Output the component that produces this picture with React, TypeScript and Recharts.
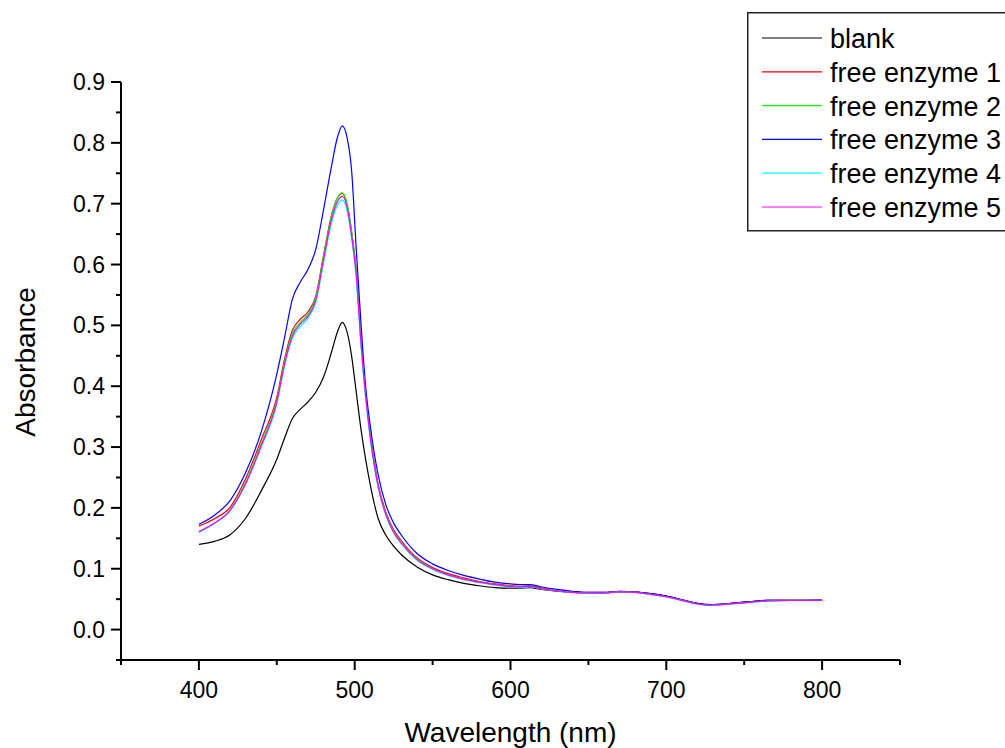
import { LineChart, Line, XAxis, YAxis } from "recharts";

// ─── Data ───────────────────────────────────────────────
const wavelengths = [
    400, 410, 420, 430, 440, 450, 455, 460, 465, 470, 475, 480, 485, 489, 492, 495, 498, 501, 504, 507,
    510, 515, 520, 525, 530, 540, 550, 560, 570, 580, 590, 600, 606, 612, 620, 630, 640, 650, 660, 670,
    680, 690, 700, 710, 720, 728, 735, 745, 755, 765, 780, 800,
];

const blank = [
    0.14, 0.145, 0.156, 0.183, 0.228, 0.28, 0.315, 0.347, 0.362, 0.374, 0.39, 0.415, 0.455, 0.49, 0.505, 0.49, 0.45, 0.39, 0.33, 0.28,
    0.238, 0.183, 0.155, 0.137, 0.123, 0.103, 0.09, 0.082, 0.076, 0.072, 0.069, 0.068, 0.068, 0.069, 0.066, 0.063, 0.061, 0.06, 0.06, 0.062,
    0.061, 0.059, 0.055, 0.049, 0.043, 0.04, 0.041, 0.044, 0.046, 0.048, 0.048, 0.048,
];

const enzyme1 = [
    0.17, 0.182, 0.201, 0.248, 0.312, 0.382, 0.445, 0.492, 0.51, 0.522, 0.548, 0.615, 0.68, 0.71, 0.717, 0.7, 0.655, 0.59, 0.48, 0.39,
    0.322, 0.24, 0.193, 0.164, 0.146, 0.118, 0.102, 0.092, 0.085, 0.079, 0.075, 0.072, 0.071, 0.072, 0.068, 0.065, 0.062, 0.061, 0.061, 0.063,
    0.062, 0.059, 0.055, 0.049, 0.043, 0.041, 0.042, 0.044, 0.046, 0.048, 0.048, 0.048,
];

const enzyme2 = [
    0.16, 0.175, 0.196, 0.242, 0.305, 0.377, 0.44, 0.487, 0.505, 0.518, 0.545, 0.612, 0.678, 0.71, 0.718, 0.701, 0.654, 0.586, 0.475, 0.386,
    0.318, 0.237, 0.19, 0.161, 0.143, 0.116, 0.1, 0.09, 0.083, 0.078, 0.074, 0.071, 0.07, 0.071, 0.067, 0.064, 0.061, 0.06, 0.06, 0.062,
    0.061, 0.058, 0.054, 0.048, 0.042, 0.04, 0.041, 0.043, 0.045, 0.047, 0.048, 0.048,
];

const enzyme3 = [
    0.173, 0.188, 0.212, 0.258, 0.325, 0.42, 0.48, 0.543, 0.571, 0.592, 0.625, 0.69, 0.76, 0.81, 0.828, 0.81, 0.755, 0.625, 0.505, 0.4,
    0.335, 0.255, 0.205, 0.175, 0.155, 0.125, 0.108, 0.097, 0.089, 0.083, 0.078, 0.075, 0.074, 0.074, 0.07, 0.066, 0.063, 0.061, 0.061, 0.063,
    0.062, 0.059, 0.055, 0.049, 0.043, 0.041, 0.042, 0.044, 0.046, 0.048, 0.048, 0.049,
];

const enzyme4 = [
    0.16, 0.174, 0.195, 0.239, 0.3, 0.371, 0.433, 0.479, 0.498, 0.512, 0.538, 0.603, 0.667, 0.698, 0.706, 0.69, 0.643, 0.578, 0.469, 0.382,
    0.314, 0.234, 0.188, 0.159, 0.141, 0.114, 0.099, 0.089, 0.082, 0.077, 0.073, 0.07, 0.069, 0.07, 0.067, 0.064, 0.061, 0.06, 0.06, 0.062,
    0.061, 0.058, 0.054, 0.048, 0.042, 0.04, 0.041, 0.043, 0.045, 0.047, 0.048, 0.048,
];

const enzyme5 = [
    0.161, 0.175, 0.196, 0.24, 0.302, 0.374, 0.437, 0.483, 0.502, 0.515, 0.541, 0.608, 0.673, 0.704, 0.712, 0.696, 0.648, 0.582, 0.472, 0.384,
    0.316, 0.236, 0.189, 0.16, 0.142, 0.115, 0.1, 0.09, 0.083, 0.078, 0.074, 0.071, 0.07, 0.071, 0.067, 0.064, 0.061, 0.06, 0.06, 0.062,
    0.061, 0.058, 0.054, 0.048, 0.042, 0.04, 0.041, 0.043, 0.045, 0.047, 0.048, 0.048,
];

const seriesNames = ["blank", "free enzyme 1", "free enzyme 2", "free enzyme 3", "free enzyme 4", "free enzyme 5"];
const seriesColors = ["#000000", "#ff0000", "#00ff00", "#0000ff", "#00ffff", "#ff00ff"];
const seriesValues = [blank, enzyme1, enzyme2, enzyme3, enzyme4, enzyme5];

const xTicks = [350, 400, 450, 500, 550, 600, 650, 700, 750, 800, 850];
const yTicks = [-0.05, 0, 0.05, 0.1, 0.15, 0.2, 0.25, 0.3, 0.35, 0.4, 0.45, 0.5, 0.55, 0.6, 0.65, 0.7, 0.75, 0.8, 0.85, 0.9];

const data = wavelengths.map((w, i) => {
    const row: Record<string, number> = { w };
    seriesValues.forEach((vals, k) => (row[`s${k}`] = vals[i]));
    return row;
});

const FONT = "'Liberation Sans', Arial, sans-serif";

// ─── Ticks (major + minor) ──────────────────────────────
function XTick({ x, y, payload }: any) {
    const major = payload.value % 100 === 0;
    return (
        <g>
            <line x1={x} x2={x} y1={y} y2={y + (major ? 10 : 5)} stroke="#000" strokeWidth={2} />
            {major && (
                <text x={x} y={y + 38} textAnchor="middle" fontSize={23} fontFamily={FONT} fill="#000">
                    {payload.value}
                </text>
            )}
        </g>
    );
}

function YTick({ x, y, payload }: any) {
    const v = payload.value as number;
    const major = Math.round(v * 100) % 10 === 0;
    return (
        <g>
            <line x1={x - (major ? 10 : 5)} x2={x} y1={y} y2={y} stroke="#000" strokeWidth={2} />
            {major && (
                <text x={x - 16} y={y + 8} textAnchor="end" fontSize={23} fontFamily={FONT} fill="#000">
                    {v.toFixed(1)}
                </text>
            )}
        </g>
    );
}

// ─── Axis titles ────────────────────────────────────────
function XTitle(props: any) {
    const vb = props.viewBox ?? { x: 121, y: 660, width: 779, height: 88 };
    return (
        <text x={vb.x + vb.width / 2} y={vb.y + vb.height - 6} textAnchor="middle" fontSize={28} fontFamily={FONT} fill="#000">
            Wavelength (nm)
        </text>
    );
}

function YTitle(props: any) {
    const vb = props.viewBox ?? { x: 21, y: 82, width: 100, height: 578 };
    const cx = vb.x + 14;
    const cy = vb.y + vb.height / 2 - 9;
    return (
        <text x={cx} y={cy} transform={`rotate(-90 ${cx} ${cy})`} textAnchor="middle" fontSize={28} fontFamily={FONT} fill="#000">
            Absorbance
        </text>
    );
}

// ─── Legend box ─────────────────────────────────────────
function LegendBox() {
    return (
        <svg width={280} height={222} style={{ position: "absolute", left: 747, top: 12, overflow: "visible" }}>
            <rect x={0.75} y={0.75} width={290} height={218} fill="#fff" stroke="#222" strokeWidth={1.5} />
            {seriesNames.map((name, i) => {
                const cy = 26 + i * 33.8;
                return (
                    <g key={name}>
                        <line x1={15} x2={75} y1={cy} y2={cy} stroke={seriesColors[i]} strokeWidth={1.2} />
                        <text x={83} y={cy + 10} fontSize={27} fontFamily={FONT} fill="#000">
                            {name}
                        </text>
                    </g>
                );
            })}
        </svg>
    );
}

export default function App() {
    return (
        <div
            style={{
                position: "absolute",
                left: 0,
                top: 0,
                width: 1005,
                height: 748,
                background: "#fff",
                overflow: "hidden",
                fontFamily: FONT,
            }}
        >
            <LineChart width={1005} height={748} data={data} margin={{ top: 82, right: 105, bottom: 0, left: 21 }}>
                <XAxis
                    dataKey="w"
                    type="number"
                    domain={[350, 850]}
                    ticks={xTicks}
                    interval={0}
                    height={88}
                    tickSize={0}
                    tickMargin={0}
                    tickLine={false}
                    tick={<XTick />}
                    axisLine={{ stroke: "#000", strokeWidth: 2 }}
                    allowDataOverflow
                    label={{ content: XTitle }}
                />
                <YAxis
                    type="number"
                    domain={[-0.05, 0.9]}
                    ticks={yTicks}
                    interval={0}
                    width={100}
                    tickSize={0}
                    tickMargin={0}
                    tickLine={false}
                    tick={<YTick />}
                    axisLine={{ stroke: "#000", strokeWidth: 2 }}
                    allowDataOverflow
                    label={{ content: YTitle }}
                />
                {seriesValues.map((_, k) => (
                    <Line
                        key={k}
                        type="monotone"
                        dataKey={`s${k}`}
                        stroke={seriesColors[k]}
                        strokeWidth={1.2}
                        dot={false}
                        activeDot={false}
                        isAnimationActive={false}
                    />
                ))}
            </LineChart>
            <LegendBox />
        </div>
    );
}
